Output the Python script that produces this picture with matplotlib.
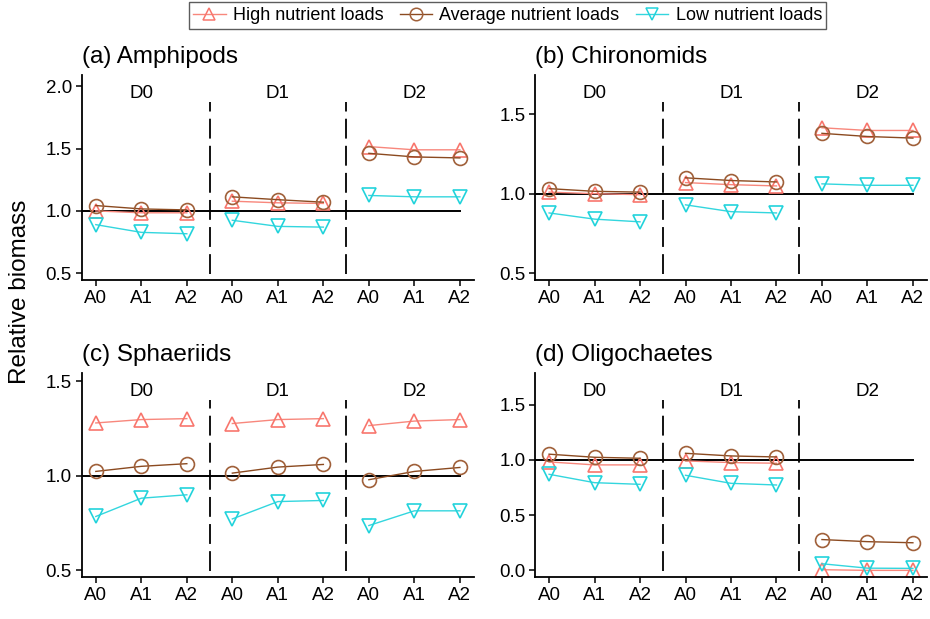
import matplotlib
matplotlib.use("Agg")
import matplotlib.pyplot as plt
from matplotlib.lines import Line2D
import numpy as np

plt.rcParams['font.family'] = ['Liberation Sans', 'DejaVu Sans']

treat_labels = ["A0", "A1", "A2"] * 3
groups = ["D0", "D1", "D2"]
series_names = ["High nutrient loads", "Average nutrient loads", "Low nutrient loads"]
panel_titles = ["(a) Amphipods", "(b) Chironomids", "(c) Sphaeriids", "(d) Oligochaetes"]

# values per panel: positions A0..A2 for D0, D1, D2
amph_high = [1.00, 0.985, 0.985, 1.078, 1.065, 1.06, 1.516, 1.49, 1.49]
amph_avg  = [1.043, 1.016, 1.008, 1.113, 1.09, 1.07, 1.462, 1.433, 1.425]
amph_low  = [0.89, 0.828, 0.817, 0.925, 0.876, 0.87, 1.124, 1.113, 1.113]

chir_high = [1.01, 1.0, 0.994, 1.07, 1.057, 1.049, 1.415, 1.398, 1.398]
chir_avg  = [1.032, 1.015, 1.01, 1.10, 1.083, 1.074, 1.38, 1.36, 1.35]
chir_low  = [0.879, 0.84, 0.823, 0.93, 0.887, 0.879, 1.062, 1.053, 1.053]

spha_high = [1.28, 1.298, 1.303, 1.277, 1.298, 1.303, 1.266, 1.29, 1.298]
spha_avg  = [1.023, 1.05, 1.064, 1.014, 1.046, 1.06, 0.979, 1.023, 1.044]
spha_low  = [0.784, 0.881, 0.899, 0.771, 0.863, 0.869, 0.736, 0.814, 0.814]

olig_high = [0.982, 0.955, 0.955, 0.991, 0.976, 0.97, 0.006, 0.0, 0.0]
olig_avg  = [1.052, 1.024, 1.015, 1.06, 1.036, 1.027, 0.279, 0.26, 0.25]
olig_low  = [0.87, 0.794, 0.779, 0.861, 0.788, 0.773, 0.06, 0.02, 0.018]

panels = [
    (amph_high, amph_avg, amph_low),
    (chir_high, chir_avg, chir_low),
    (spha_high, spha_avg, spha_low),
    (olig_high, olig_avg, olig_low),
]
ylims = [(0.446, 2.09), (0.457, 1.747), (0.463, 1.545), (-0.06, 1.787)]
yticks = [[0.5, 1.0, 1.5, 2.0], [0.5, 1.0, 1.5], [0.5, 1.0, 1.5], [0.0, 0.5, 1.0, 1.5]]

line_colors = ["#F8877C", "#8B4A20", "#33D6DE"]
edge_colors = ["#F8766D", "#A0603A", "#22D3DB"]
markers = ["^", "o", "v"]
msizes = [10, 10, 10]

W, H = 930, 619
fig = plt.figure(figsize=(W / 100, H / 100), dpi=100)

boxes = [
    (81.7, 75, 474, 280),
    (535, 75, 927, 280),
    (81.7, 373, 474, 577),
    (535, 373, 927, 577),
]

x = np.arange(1, 10)
for i, (l, t, r, b) in enumerate(boxes):
    ax = fig.add_axes([l / W, 1 - b / H, (r - l) / W, (b - t) / H])
    ax.set_xlim(0.69, 9.31)
    ax.set_ylim(*ylims[i])
    for s in ["top", "right"]:
        ax.spines[s].set_visible(False)
    for s in ["left", "bottom"]:
        ax.spines[s].set_linewidth(1.3)
    ax.set_xticks(x)
    ax.set_xticklabels(treat_labels)
    ax.set_yticks(yticks[i])
    ax.set_yticklabels([f"{v:.1f}" for v in yticks[i]])
    ax.tick_params(axis="both", direction="out", length=4, width=1.1, labelsize=13.5, colors="black", pad=3)
    # reference line
    ax.plot([0.0, 9], [1.0, 1.0], color="black", lw=1.4, zorder=1, clip_on=True)
    # dashed separators
    for xv in [3.5, 6.5]:
        ax.plot([xv, xv], [0.03, 0.87], transform=ax.get_xaxis_transform(),
                color="black", lw=1.3, linestyle=(0, (11, 4)), zorder=1)
    for gi, g in enumerate(groups):
        ax.text(2 + 3 * gi, 0.91, g, transform=ax.get_xaxis_transform(),
                ha="center", va="center", fontsize=13.5)
    ax.text(0.0, 1.035, panel_titles[i], transform=ax.transAxes, ha="left", va="bottom", fontsize=17.5)
    for si in range(3):
        vals = panels[i][si]
        for gi in range(3):
            xs = x[3 * gi:3 * gi + 3]
            ys = vals[3 * gi:3 * gi + 3]
            ax.plot(xs, ys, color=line_colors[si], lw=1.0, zorder=2 + si)
            ax.plot(xs, ys, linestyle="none", marker=markers[si], markersize=msizes[si],
                    markerfacecolor="none", markeredgecolor=edge_colors[si],
                    markeredgewidth=1.2, zorder=2 + si)

fig.text(20 / W, 1 - 292 / H, "Relative biomass", rotation=90, ha="center", va="center", fontsize=17.5)

handles = [Line2D([0], [0], color=line_colors[k], lw=1.0, marker=markers[k], markersize=9,
                  markerfacecolor="none", markeredgecolor=edge_colors[k], markeredgewidth=1.1)
           for k in range(3)]
leg = fig.legend(handles, series_names, loc="center", bbox_to_anchor=(507.5 / W, 1 - 15.5 / H),
                 ncol=3, frameon=True, fontsize=13, handlelength=1.8, handletextpad=0.4,
                 columnspacing=0.9, borderpad=0.25, fancybox=False, borderaxespad=0)
leg.get_frame().set_edgecolor("#333333")
leg.get_frame().set_linewidth(1.0)

fig.savefig("out.png", dpi=100)
